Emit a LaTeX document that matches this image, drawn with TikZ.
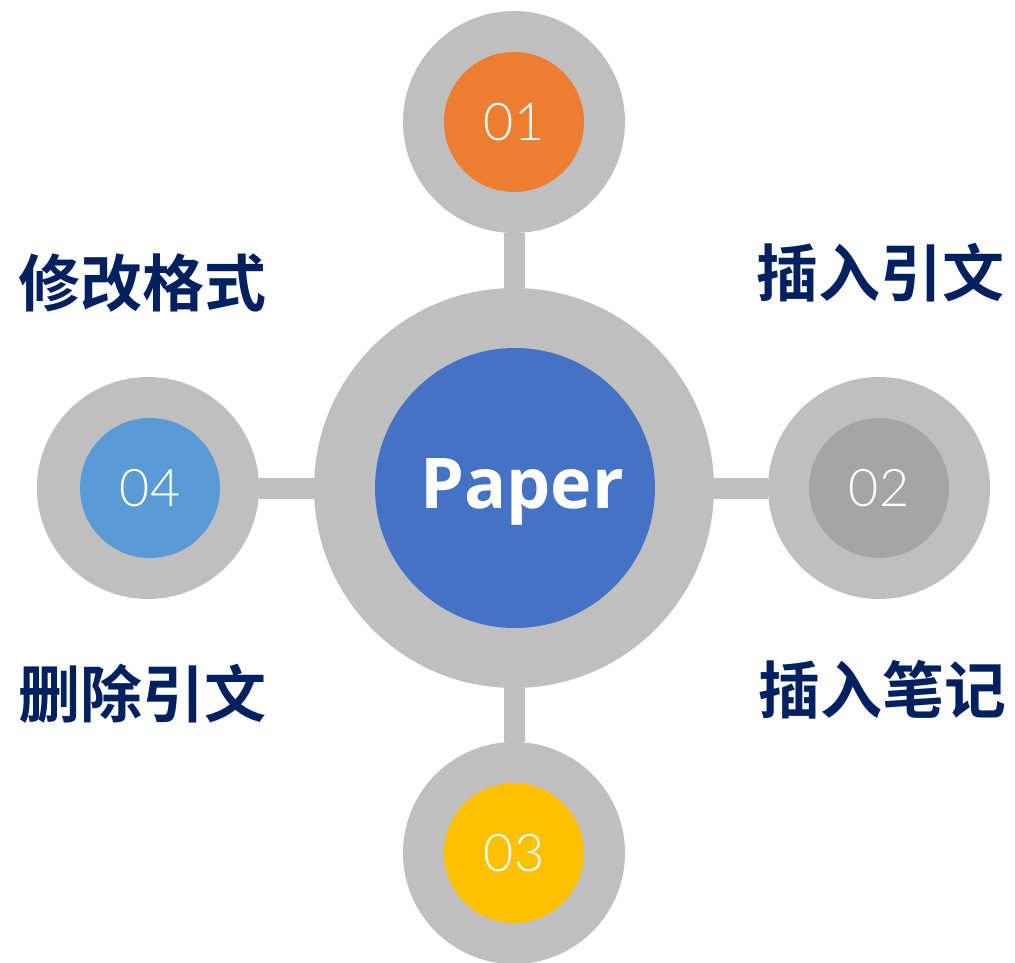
\documentclass[tikz,border=0pt]{standalone}
\usepackage{fontspec}
\setmainfont{Open Sans}
\newfontfamily\cjk{Noto Sans CJK SC Bold}
\newfontfamily\numfont{Lato Light}
\definecolor{ringgray}{HTML}{BFBFBF}
\definecolor{cblue}{HTML}{4472C4}
\definecolor{corange}{HTML}{ED7D31}
\definecolor{cgray}{HTML}{A5A5A5}
\definecolor{cyellow}{HTML}{FFC000}
\definecolor{clblue}{HTML}{5B9BD5}
\definecolor{navy}{HTML}{002060}
\begin{document}
\begin{tikzpicture}[x=1pt,y=-1pt,
  ring/.style={circle,fill=ringgray,inner sep=0pt,minimum size=222pt},
  bigring/.style={circle,fill=ringgray,inner sep=0pt,minimum size=400pt},
  dot/.style={circle,inner sep=0pt,minimum size=140pt,text=white,font=\numfont\fontsize{52}{52}\selectfont},
  bar/.style={ringgray,line width=21pt},
  lbl/.style={text=navy,font=\cjk\fontsize{62}{62}\selectfont,inner sep=0pt}]
\useasboundingbox (0,0) rectangle (1015,963);
\node[bigring] (cr) at (514,488) {};
\node[ring] (tr) at (514,122) {};
\node[ring] (rr) at (879,488) {};
\node[ring] (br) at (514,853) {};
\node[ring] (lr) at (148,488) {};
\draw[bar] (tr.south) -- (cr.north);
\draw[bar] (br.north) -- (cr.south);
\draw[bar] (lr.east) -- (cr.west);
\draw[bar] (rr.west) -- (cr.east);
\node[circle,fill=cblue,inner sep=0pt,minimum size=280pt] (c) at (515,488) {};
\node[anchor=base,text=white,inner sep=0pt,font=\bfseries\fontsize{70}{70}\selectfont] (ct) at (522,508) {Paper};
\node[dot,fill=corange] (n1) at (514,122) {01};
\node[dot,fill=cgray] (n2) at (879,488) {02};
\node[dot,fill=cyellow] (n3) at (514,853) {03};
\node[dot,fill=clblue] (n4) at (150,488) {04};
\node[lbl] (l4a) at (143,283) {修改格式};
\node[lbl] (l1) at (880,273) {插入引文};
\node[lbl] (l4b) at (143,694) {删除引文};
\node[lbl] (l2) at (882,690) {插入笔记};
\end{tikzpicture}
\end{document}
